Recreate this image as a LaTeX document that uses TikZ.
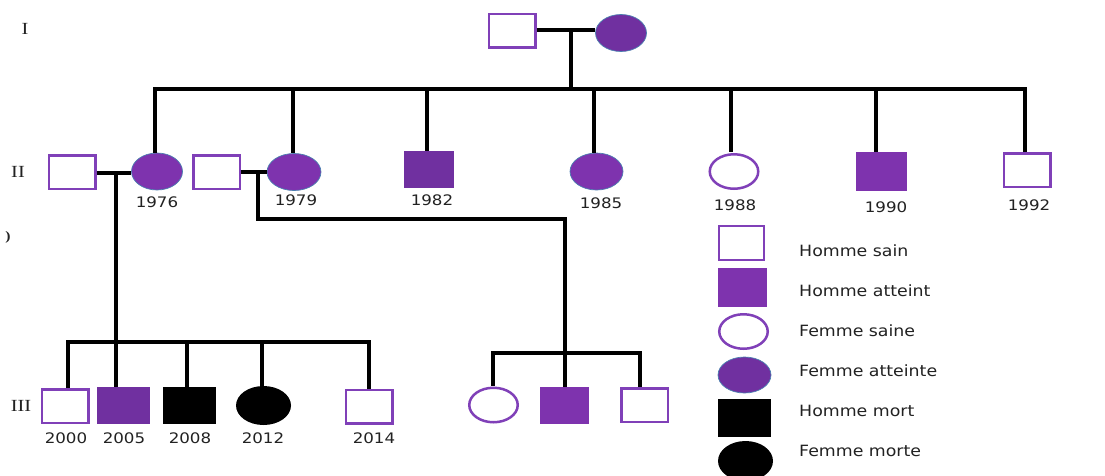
\documentclass[tikz,border=0pt]{standalone}
\usepackage{fontspec}
\setmainfont{DejaVu Sans}
\newfontfamily\romfont{Liberation Serif}
\usetikzlibrary{shapes.geometric}
\definecolor{pout}{HTML}{8040B8}
\definecolor{pfill}{HTML}{7E33AE}
\definecolor{pdark}{HTML}{7030A0}
\definecolor{pedge}{HTML}{4A7FB0}
\definecolor{txt}{HTML}{222222}
\begin{document}
\begin{tikzpicture}[x=1pt,y=-1pt,
  sq/.style={rectangle, inner sep=0pt, minimum width=49pt, minimum height=36pt},
  ci/.style={ellipse, inner sep=0pt, minimum width=51pt, minimum height=37pt},
  hm/.style={sq, draw=pout, line width=2.5pt, fill=white, minimum width=46.5pt, minimum height=33.5pt},
  am/.style={sq, fill=pfill},
  amd/.style={sq, fill=pdark},
  dm/.style={sq, fill=black},
  hf/.style={ci, draw=pout, line width=2.5pt, fill=white, minimum width=48.5pt, minimum height=34.5pt},
  af/.style={ci, fill=pfill, draw=pedge, line width=0.7pt},
  afd/.style={ci, fill=pdark, draw=pedge, line width=0.7pt},
  df/.style={ci, fill=black},
  lnk/.style={line width=3.3pt, draw=black},
  yr/.style={font=\fontsize{14.5}{16}\selectfont, xscale=1.15, text=txt, inner sep=0pt},
  lg/.style={font=\fontsize{15.5}{18}\selectfont, xscale=1.12, text=txt, inner sep=0pt, anchor=west},
  gen/.style={font=\romfont\fontsize{17}{19}\selectfont, xscale=1.2, text=txt, inner sep=0pt},
]
\useasboundingbox (0,0) rectangle (1105,475);
\fill[white] (0,0) rectangle (1105,475);

% generation labels
\node[gen] (gI) at (25,29) {I};
\node[gen] (gII) at (18,172) {II};
\node[gen] (gIII) at (21,406) {III};
\node[gen, font=\romfont\bfseries\fontsize{13}{14}\selectfont] (stray) at (8,237) {)};

% generation I
\node[hm] (p1) at (512,30.5) {};
\node[afd] (p2) at (621,33) {};

% generation II
\node[hm] (h1) at (72,172) {};
\node[af] (c1976) at (157,171.5) {};
\node[hm] (h2) at (216.5,172) {};
\node[af, minimum width=54pt] (c1979) at (294,172) {};
\node[amd, minimum width=50pt, minimum height=37pt] (c1982) at (429,169.5) {};
\node[af, minimum width=53pt] (c1985) at (596.5,171.5) {};
\node[hf] (c1988) at (734,171.5) {};
\node[am, minimum width=51pt, minimum height=39pt] (c1990) at (881.5,171.5) {};
\node[hm] (c1992) at (1027,170) {};

% generation III left
\node[hm] (k2000) at (65,406) {};
\node[amd, minimum width=53pt, minimum height=37pt] (k2005) at (123.5,405.5) {};
\node[dm, minimum width=53pt, minimum height=37pt] (k2008) at (189.5,405.5) {};
\node[df, minimum width=55pt, minimum height=39pt] (k2012) at (263.5,405.5) {};
\node[hm] (k2014) at (369,406.5) {};

% generation III right
\node[hf] (r1) at (493.5,405) {};
\node[am, minimum width=49pt, minimum height=37pt] (r2) at (564.5,405.5) {};
\node[hm] (r3) at (644.5,405) {};

% legend symbols
\node[hm, minimum width=45pt, minimum height=34pt] (L1) at (741.5,243) {};
\node[am, minimum width=49pt, minimum height=39pt] (L2) at (742.5,287.5) {};
\node[hf, minimum width=48.5pt, minimum height=34.5pt] (L3) at (743.5,331.5) {};
\node[afd, minimum width=53pt, minimum height=36pt] (L4) at (744.5,375) {};
\node[dm, minimum width=53pt, minimum height=38pt] (L5) at (744.5,418) {};
\node[df, minimum width=55pt, minimum height=40pt] (L6) at (745.5,461) {};

% legend texts
\node[lg] (t1) at (799,251) {Homme sain};
\node[lg] (t2) at (799,291) {Homme atteint};
\node[lg] (t3) at (799,331) {Femme saine};
\node[lg] (t4) at (799,371) {Femme atteinte};
\node[lg] (t5) at (799,411) {Homme mort};
\node[lg] (t6) at (799,451) {Femme morte};

% year labels
\node[yr] (y1976) at (157,202) {1976};
\node[yr] (y1979) at (296,200) {1979};
\node[yr] (y1982) at (432,200) {1982};
\node[yr] (y1985) at (601,203) {1985};
\node[yr] (y1988) at (735,205.5) {1988};
\node[yr] (y1990) at (886,207) {1990};
\node[yr] (y1992) at (1029,205) {1992};
\node[yr] (y2000) at (66,438.5) {2000};
\node[yr] (y2005) at (124,438.5) {2005};
\node[yr] (y2008) at (190,438.5) {2008};
\node[yr] (y2012) at (263,438.5) {2012};
\node[yr] (y2014) at (374,438.5) {2014};

% connectors generation I -> II
\coordinate (m1) at (571,30);
\coordinate (s0) at (571,89);
\coordinate (s1) at (155,89);
\coordinate (s2) at (293,89);
\coordinate (s3) at (427,89);
\coordinate (s4) at (594,89);
\coordinate (s5) at (731,89);
\coordinate (s6) at (876,89);
\coordinate (s7) at (1025,89);
\draw[lnk] (p1.east |- m1) -- (p2.west |- m1);
\draw[lnk] (m1) -- (s0);
\draw[lnk, line join=miter] (s1 |- c1976.north) -- (s1) -- (s7) -- (s7 |- c1992.north);
\draw[lnk] (s2) -- (s2 |- c1979.north);
\draw[lnk] (s3) -- (s3 |- c1982.north);
\draw[lnk] (s4) -- (s4 |- c1985.north);
\draw[lnk] (s5) -- ([yshift=1pt]s5 |- c1988.north);
\draw[lnk] (s6) -- (s6 |- c1990.north);

% couple 1 -> children left
\coordinate (m2) at (116,173);
\coordinate (d2) at (116,342);
\coordinate (q1) at (68,342);
\coordinate (q3) at (187,342);
\coordinate (q4) at (262,342);
\coordinate (q5) at (369,342);
\draw[lnk] (h1.east |- m2) -- (c1976.west |- m2);
\draw[lnk] (m2) -- (d2);
\draw[lnk, line join=miter] (q1 |- k2000.north) -- (q1) -- (q5) -- (q5 |- k2014.north);
\draw[lnk] (d2) -- (d2 |- k2005.north);
\draw[lnk] (q3) -- (q3 |- k2008.north);
\draw[lnk] (q4) -- (q4 |- k2012.north);

% couple 2 -> children right
\coordinate (m3) at (258,172);
\coordinate (b1) at (258,219);
\coordinate (b2) at (565,219);
\coordinate (b3) at (565,353);
\coordinate (w1) at (493,353);
\coordinate (w3) at (640,353);
\draw[lnk] (h2.east |- m3) -- (c1979.west |- m3);
\draw[lnk, line join=miter] (m3) -- (b1) -- (b2) -- (b3);
\draw[lnk, line join=miter] ([yshift=1pt]w1 |- r1.north) -- (w1) -- (w3) -- (w3 |- r3.north);
\draw[lnk] (b3) -- (b3 |- r2.north);
\end{tikzpicture}
\end{document}
